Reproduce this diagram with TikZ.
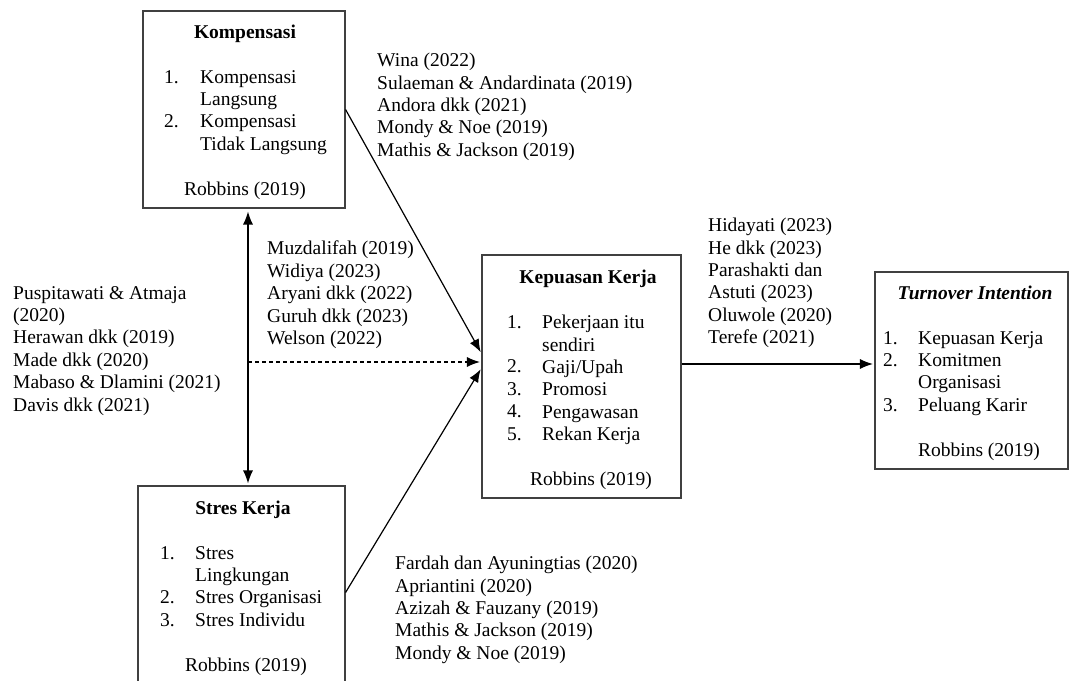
\documentclass[tikz,border=0pt]{standalone}
\usepackage{fontspec}
\setmainfont{Liberation Serif}
\usetikzlibrary{arrows.meta,calc}
\begin{document}
\begin{tikzpicture}[x=1pt,y=-1pt,
  box/.style={draw=black!75, line width=1.1pt, inner sep=0},
  txt/.style={inner sep=0, align=left, anchor=north west, font=\fontsize{19.5}{22.4}\selectfont},
  ctr/.style={inner sep=0, anchor=base, font=\fontsize{19.5}{22.4}\selectfont},
  ttl/.style={inner sep=0, anchor=base, font=\fontsize{19.5}{22.4}\selectfont\bfseries},
  conn/.style={line width=1.2pt, -{Latex[length=13pt,width=10pt]}, shorten >=1.5pt},
]
\useasboundingbox (0,0) rectangle (1070,680);

% boxes
\node[box, minimum width=202pt, minimum height=197pt] (komp) at (244,109.5) {};
\node[box, minimum width=207pt, minimum height=197pt] (stres) at (241.5,584.5) {};
\node[box, minimum width=199pt, minimum height=243pt] (kep) at (581.5,376.5) {};
\node[box, minimum width=193pt, minimum height=197pt] (turn) at (971.5,370.5) {};

% Kompensasi content
\node[ttl] (kompT) at (245,38.5) {Kompensasi};
\node[txt] (kompN) at (164,70) {1.\\[22.4pt]2.};
\node[txt] (kompI) at (200,70) {Kompensasi\\Langsung\\Kompensasi\\Tidak Langsung};
\node[ctr] (kompR) at (245,195.5) {Robbins (2019)};

% Stres Kerja content
\node[ttl] (stresT) at (243,514.5) {Stres Kerja};
\node[txt] (stresN) at (160,546) {1.\\[22.4pt]2.\\3.};
\node[txt] (stresI) at (195,546) {Stres\\Lingkungan\\Stres Organisasi\\Stres Individu};
\node[ctr] (stresR) at (246,671.5) {Robbins (2019)};

% Kepuasan Kerja content
\node[ttl] (kepT) at (588,283.5) {Kepuasan Kerja};
\node[txt] (kepN) at (507,315) {1.\\[22.4pt]2.\\3.\\4.\\5.};
\node[txt] (kepI) at (542,315) {Pekerjaan itu\\sendiri\\Gaji/Upah\\Promosi\\Pengawasan\\Rekan Kerja};
\node[ctr] (kepR) at (591,485.5) {Robbins (2019)};

% Turnover Intention content
\node[ttl, font=\fontsize{19.5}{22.4}\selectfont\bfseries\itshape] (turnT) at (975,299.5) {Turnover Intention};
\node[txt] (turnN) at (883,331) {1.\\2.\\[22.4pt]3.};
\node[txt] (turnI) at (918,331) {Kepuasan Kerja\\Komitmen\\Organisasi\\Peluang Karir};
\node[ctr] (turnR) at (979,456.5) {Robbins (2019)};

% reference blocks
\node[txt] (refA) at (377,53) {Wina (2022)\\Sulaeman \& Andardinata (2019)\\Andora dkk (2021)\\Mondy \& Noe (2019)\\Mathis \& Jackson (2019)};
\node[txt] (refB) at (267,241) {Muzdalifah (2019)\\Widiya (2023)\\Aryani dkk (2022)\\Guruh dkk (2023)\\Welson (2022)};
\node[txt] (refC) at (13,286) {Puspitawati \& Atmaja\\(2020)\\Herawan dkk (2019)\\Made dkk (2020)\\Mabaso \& Dlamini (2021)\\Davis dkk (2021)};
\node[txt] (refD) at (708,218) {Hidayati (2023)\\He dkk (2023)\\Parashakti dan\\Astuti (2023)\\Oluwole (2020)\\Terefe (2021)};
\node[txt] (refE) at (395,556) {Fardah dan Ayuningtias (2020)\\Apriantini (2020)\\Azizah \& Fauzany (2019)\\Mathis \& Jackson (2019)\\Mondy \& Noe (2019)};

% connectors
\coordinate (dashend) at ([yshift=14.5pt]kep.west);
\draw[conn] (komp.east) -- ([yshift=23pt]kep.west);
\draw[conn] ([yshift=-8pt]stres.east) -- ([yshift=8.5pt]kep.west);
\draw[line width=1.2pt, {Latex[length=13pt,width=10pt]}-{Latex[length=13pt,width=10pt]}, shorten <=3pt, shorten >=2pt]
  ([xshift=4pt]komp.south) -- ([xshift=4pt]komp.south |- stres.north);
\draw[conn, dash pattern=on 4pt off 3pt] ([xshift=4pt]komp.south |- dashend) -- (dashend);
\draw[conn] ([yshift=12.5pt]kep.east) -- ([yshift=12.5pt]kep.east -| turn.west);
\end{tikzpicture}
\end{document}
